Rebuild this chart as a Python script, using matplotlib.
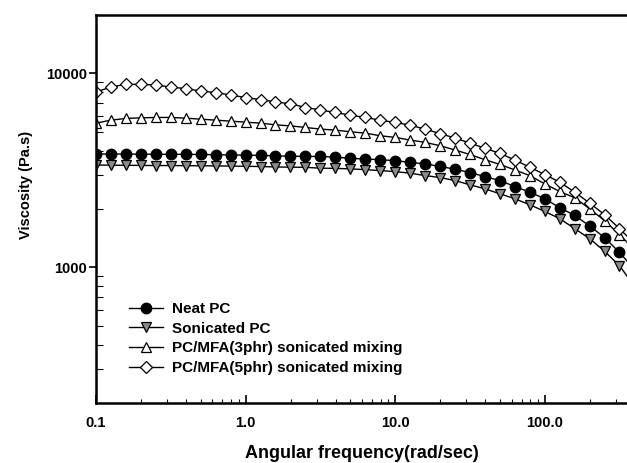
import matplotlib
matplotlib.use("Agg")
import matplotlib.pyplot as plt
from matplotlib.ticker import LogLocator, NullFormatter

plt.rcParams['font.family'] = ['Liberation Sans', 'DejaVu Sans']
plt.rcParams['font.weight'] = 'bold'

# angular frequency (rad/s), 10 points per decade; last point lies past the axis edge
freq = [0.1, 0.1259, 0.1585, 0.1995, 0.2512, 0.3162, 0.3981, 0.5012, 0.631, 0.7943,
        1.0, 1.259, 1.585, 1.995, 2.512, 3.162, 3.981, 5.012, 6.31, 7.943,
        10.0, 12.59, 15.85, 19.95, 25.12, 31.62, 39.81, 50.12, 63.1, 79.43,
        100.0, 125.9, 158.5, 199.5, 251.2, 316.2, 398.1]

neat_pc = [3840, 3840, 3840, 3835, 3830, 3830, 3825, 3820, 3810, 3800,
           3790, 3780, 3760, 3740, 3735, 3730, 3700, 3650, 3620, 3590,
           3550, 3480, 3415, 3316, 3208, 3081, 2939, 2804, 2611, 2445,
           2259, 2031, 1855, 1636, 1425, 1194, 977]

sonicated_pc = [3370, 3365, 3360, 3355, 3350, 3350, 3345, 3340, 3335, 3330,
                3320, 3310, 3295, 3284, 3280, 3246, 3240, 3219, 3192, 3155,
                3118, 3059, 2974, 2905, 2804, 2665, 2542, 2396, 2259, 2104,
                1944, 1784, 1585, 1408, 1212, 1020, 800]

mfa_3phr = [5541, 5741, 5858, 5900, 5928, 5928, 5879, 5809, 5741, 5673,
            5607, 5541, 5430, 5365, 5265, 5162, 5102, 5000, 4924, 4770,
            4680, 4533, 4412, 4239, 4029, 3820, 3592, 3395, 3181, 2974,
            2697, 2462, 2286, 2007, 1742, 1476, 1236]

mfa_5phr = [8019, 8505, 8783, 8783, 8710, 8505, 8346, 8115, 7962, 7739,
            7505, 7330, 7125, 6975, 6670, 6484, 6288, 6091, 5928, 5741,
            5587, 5412, 5162, 4895, 4642, 4375, 4109, 3874, 3579, 3284,
            3009, 2751, 2445, 2147, 1870, 1585, 1327]

labels = ["Neat PC", "Sonicated PC",
          "PC/MFA(3phr) sonicated mixing", "PC/MFA(5phr) sonicated mixing"]

fig = plt.figure(figsize=(6.27, 4.63), dpi=100)
ax = fig.add_axes([0.1531, 0.1296, 0.8469, 0.838])

ax.plot(freq, neat_pc, '-o', color='black', lw=1, ms=7.5,
        mfc='black', mec='black', label=labels[0])
ax.plot(freq, sonicated_pc, '-v', color='black', lw=1, ms=7.5,
        mfc='#8a8a8a', mec='black', mew=0.9, label=labels[1])
ax.plot(freq, mfa_3phr, '-^', color='black', lw=1, ms=7.5,
        mfc='white', mec='black', mew=0.9, label=labels[2])
ax.plot(freq, mfa_5phr, '-D', color='black', lw=1, ms=6.5,
        mfc='white', mec='black', mew=0.9, label=labels[3])

ax.set_xscale('log')
ax.set_yscale('log')
ax.set_xlim(0.1, 355)
ax.set_ylim(200, 20000)

ax.set_xticks([0.1, 1, 10, 100])
ax.set_xticklabels(["0.1", "1.0", "10.0", "100.0"])
ax.set_yticks([1000, 10000])
ax.set_yticklabels(["1000", "10000"])
ax.xaxis.set_minor_locator(LogLocator(base=10, subs=range(2, 10)))
ax.yaxis.set_minor_locator(LogLocator(base=10, subs=range(2, 10)))
ax.xaxis.set_minor_formatter(NullFormatter())
ax.yaxis.set_minor_formatter(NullFormatter())

ax.tick_params(axis='x', which='both', direction='in', labelsize=10.5, pad=9.5)
ax.tick_params(axis='x', which='major', length=6, width=1.2)
ax.tick_params(axis='x', which='minor', length=3, width=0.8)
ax.tick_params(axis='y', which='major', direction='out', length=5, width=1.2, labelsize=10.5, pad=1.5)
ax.tick_params(axis='y', which='minor', direction='in', length=5, width=0.8)

for side in ['left', 'bottom', 'top']:
    ax.spines[side].set_linewidth(1.8)
ax.spines['right'].set_visible(False)

ax.set_xlabel("Angular frequency(rad/sec)", fontsize=13, fontweight='bold')
ax.xaxis.set_label_coords(0.5, -0.107)
ax.set_ylabel("Viscosity (Pa.s)", fontsize=10.5, fontweight='bold')
ax.yaxis.set_label_coords(-0.119, 0.562)

ax.legend(loc='upper left', bbox_to_anchor=(0.051, 0.276), frameon=False,
          fontsize=11, handlelength=2.2, handletextpad=0.6, labelspacing=0.37,
          borderaxespad=0)

fig.savefig("out.png", dpi=100)
